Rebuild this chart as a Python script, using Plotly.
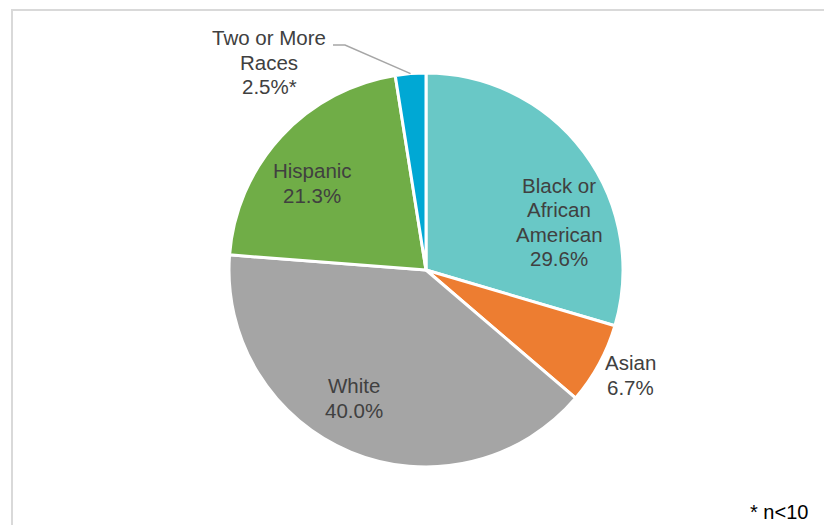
import math
import plotly.graph_objects as go

# ---- data ----
categories = ["Black or African American", "Asian", "White", "Hispanic", "Two or More Races"]
values = [29.6, 6.7, 40.0, 21.3, 2.5]
label_lines = [
    ["Black or", "African", "American", "29.6%"],
    ["Asian", "6.7%"],
    ["White", "40.0%"],
    ["Hispanic", "21.3%"],
    ["Two or More", "Races", "2.5%*"],
]
colors = ["#69C8C6", "#ED7D31", "#A5A5A5", "#70AD47", "#00A8D4"]
footnote = "* n<10"

# ---- layout (pixels) ----
W, H = 824, 525
CX, CY, R = 426, 270, 197
# label block centers (first line centre), line spacing
label_pos = [(559, 185), (630, 362.5), (354, 385.5), (312, 170.5), (269, 37.5)]
LINE_GAP = 24.5
FONT = "Liberation Sans, Arial, sans-serif"
TXT = "#404040"


def px(x):
    return x / W


def py(y):
    return 1 - y / H


fig = go.Figure(go.Pie(
    labels=categories,
    values=values,
    sort=False,
    direction="clockwise",
    rotation=0,
    marker=dict(colors=colors, line=dict(color="white", width=3)),
    textinfo="none",
    hoverinfo="label+percent",
    showlegend=False,
    domain=dict(x=[px(CX - R), px(CX + R)], y=[py(CY + R), py(CY - R)]),
))

annotations = []
for lines, (lx, ly) in zip(label_lines, label_pos):
    for i, t in enumerate(lines):
        annotations.append(dict(
            x=px(lx), y=py(ly + i * LINE_GAP), xref="paper", yref="paper",
            text=t, showarrow=False, xanchor="center", yanchor="middle",
            font=dict(family=FONT, size=20.5, color=TXT),
        ))
annotations.append(dict(
    x=px(748), y=py(512), xref="paper", yref="paper", text=footnote,
    showarrow=False, xanchor="left", yanchor="middle",
    font=dict(family=FONT, size=20, color="#000000"),
))

# leader line for the smallest slice, endpoint from its mid angle
total = sum(values)
mid = (sum(values[:-1]) + values[-1] / 2) / total * 2 * math.pi
ex, ey = CX + R * math.sin(mid), CY - R * math.cos(mid)

shapes = [
    dict(type="rect", xref="paper", yref="paper",
         x0=px(12), x1=px(840), y0=py(540), y1=py(10),
         line=dict(color="#D9D9D9", width=2)),
    dict(type="path", xref="paper", yref="paper",
         path=f"M {px(333)},{py(45)} L {px(345)},{py(45)} L {px(ex)},{py(ey)}",
         line=dict(color="#A6A6A6", width=1.5)),
]

fig.update_layout(
    width=W, height=H,
    margin=dict(l=0, r=0, t=0, b=0),
    paper_bgcolor="white", plot_bgcolor="white",
    annotations=annotations, shapes=shapes,
)

fig.write_html("out.html")
